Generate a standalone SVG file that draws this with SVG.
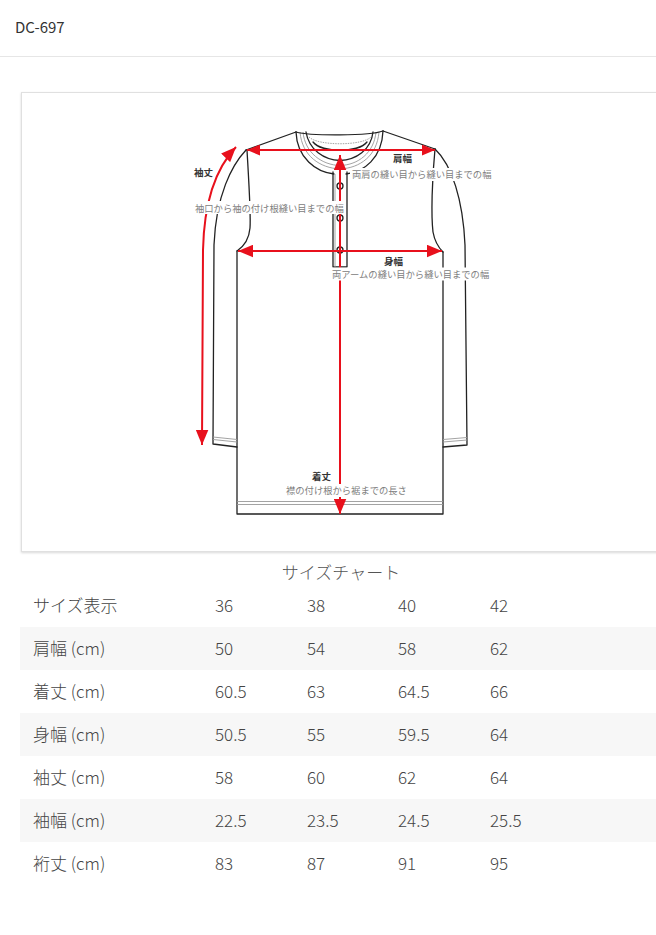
<svg xmlns="http://www.w3.org/2000/svg" width="656" height="935" viewBox="0 0 656 935">
<defs>
<style>
.t{font-family:"Noto Sans CJK JP","Noto Sans",sans-serif;}
.hdr{font-size:15px;fill:#333;}
.cell{font-size:17px;fill:#444;font-weight:300;}
.ttl{font-size:17px;fill:#555;font-weight:300;}
.lb{font-size:9.5px;fill:#333;font-weight:bold;}
.ds{font-size:9.3px;fill:#808080;}
.ol{fill:none;stroke:#222;stroke-width:1.3;stroke-linejoin:round;stroke-linecap:round;}
.gl{fill:none;stroke:#999;stroke-width:0.9;}
.red{fill:none;stroke:#e8101c;stroke-width:2;}
.bg{fill:#fff;}
.sh{fill:#f7f7f7;}
</style>
<marker id="ah" viewBox="0 0 12 10" refX="12" refY="5" markerWidth="13" markerHeight="11" markerUnits="userSpaceOnUse" orient="auto-start-reverse">
<path d="M0,0 L12,5 L0,10 z" fill="#e8101c"/>
</marker>
<marker id="ahL" viewBox="0 0 12 10" refX="12" refY="5" markerWidth="15" markerHeight="13" markerUnits="userSpaceOnUse" orient="auto-start-reverse">
<path d="M0,0 L12,5 L0,10 z" fill="#e8101c"/>
</marker>
<filter id="shadow" x="-5%" y="-5%" width="110%" height="110%">
<feDropShadow dx="0" dy="1" stdDeviation="1.2" flood-color="#000" flood-opacity="0.15"/>
</filter>
</defs>

<g id="header">
<text class="t hdr" x="15" y="33">DC-697</text>
<line x1="0" y1="56.5" x2="656" y2="56.5" stroke="#e6e6e6" stroke-width="1"/>
</g>

<g id="diagram-box">
<rect x="21.5" y="92.5" width="700" height="459" fill="#fff" stroke="#e0e0e0" stroke-width="1" filter="url(#shadow)"/>
</g>

<g id="garment">
<!-- body -->
<path class="ol" d="M237,251 L237,514 L443,514 L443,252"/>
<line class="gl" x1="237" y1="501.5" x2="443" y2="501.5"/>
<line class="gl" x1="237" y1="504.5" x2="443" y2="504.5"/>
<!-- shoulders -->
<path class="ol" d="M246,150 L296,132"/>
<path class="ol" d="M383,131 L435,149"/>
<!-- left sleeve -->
<path class="ol" d="M246,150 C232,165 216,195 214,245 L213,444 L237,447"/>
<path class="ol" d="M247,150 C249,185 251,215 250,228 C249,240 243,247 237,251"/>
<path class="gl" d="M213,437 L237,439.5"/>
<path class="gl" d="M213,439.5 L237,442"/>
<!-- right sleeve -->
<path class="ol" d="M435,149 C452,165 463,200 465,245 L467,445 L443,447"/>
<path class="ol" d="M435,149 C432,180 431,215 433,232 C435,243 439,248 443,252"/>
<path class="gl" d="M467,437.5 L443,439.5"/>
<path class="gl" d="M467,440 L443,442"/>
<!-- collar -->
<path class="ol" d="M296,132 C297,158 316,172 334,174"/>
<path class="ol" d="M383,131 C382,158 364,172 346,174"/>
<path class="gl" d="M300,132 C302,156 320,168 340,169 C360,168 377,156 379,132"/>
<path class="gl" d="M303,132 C305,153 322,165 340,165.5 C358,165 374,153 376,132"/>
<path class="ol" d="M306,132 C309,150 324,160 340,160.5 C356,160 371,150 373,132"/>
<path class="ol" d="M296,132 C310,136 370,136 383,131"/>
<path class="gl" d="M309,137 C318,146 362,146 371,137" stroke-dasharray="1.5 1"/>
<path class="ol" d="M313,142 C322,153 358,153 367,142" stroke-width="0.9"/>
<!-- placket -->
<path class="ol" d="M333,172 L333,267 L347,267 L347,172"/>
<line class="gl" x1="335" y1="174" x2="335" y2="267"/>
<circle class="ol" cx="340" cy="186" r="3" stroke-width="1"/>
<circle class="ol" cx="340" cy="218" r="3" stroke-width="1"/>
<circle class="ol" cx="340" cy="250" r="3" stroke-width="1"/>
</g>

<g id="connectors">
<line class="red" x1="247" y1="150" x2="435" y2="150" marker-start="url(#ah)" marker-end="url(#ah)"/>
<line class="red" x1="238" y1="251" x2="442" y2="251" marker-start="url(#ahL)" marker-end="url(#ahL)"/>
<line class="red" x1="340" y1="155" x2="340" y2="514" marker-start="url(#ahL)" marker-end="url(#ahL)"/>
<path class="red" d="M236,147 C214,170 204,205 203,250 L202,445" marker-start="url(#ahL)" marker-end="url(#ahL)"/>
</g>

<g id="label-shoulder">
<text class="t lb" x="393" y="161.5">肩幅</text>
<rect class="bg" x="350" y="168" width="143" height="13"/>
<text class="t ds" x="352" y="178">両肩の縫い目から縫い目までの幅</text>
</g>

<g id="label-sleeve">
<text class="t lb" x="194" y="175.5">袖丈</text>
<rect class="bg" x="193" y="201" width="152" height="13"/>
<text class="t ds" x="195" y="211.5">袖口から袖の付け根縫い目までの幅</text>
</g>

<g id="label-body">
<text class="t lb" x="384" y="264.5">身幅</text>
<rect class="bg" x="330" y="267.5" width="163" height="13"/>
<text class="t ds" x="332" y="277.5">両アームの縫い目から縫い目までの幅</text>
</g>

<g id="label-length">
<text class="t lb" x="312" y="479.5">着丈</text>
<rect class="bg" x="284" y="484" width="124" height="13"/>
<text class="t ds" x="286" y="493.5">襟の付け根から裾までの長さ</text>
</g>

<g id="size-table">
<text class="t ttl" x="341" y="579" text-anchor="middle">サイズチャート</text>
<rect class="sh" x="20" y="627" width="636" height="43"/>
<rect class="sh" x="20" y="713" width="636" height="43"/>
<rect class="sh" x="20" y="799" width="636" height="43"/>
<g class="t cell">
<text x="33" y="612">サイズ表示</text><text x="215" y="612">36</text><text x="307" y="612">38</text><text x="398" y="612">40</text><text x="490" y="612">42</text>
<text x="33" y="655">肩幅 (cm)</text><text x="215" y="655">50</text><text x="307" y="655">54</text><text x="398" y="655">58</text><text x="490" y="655">62</text>
<text x="33" y="698">着丈 (cm)</text><text x="215" y="698">60.5</text><text x="307" y="698">63</text><text x="398" y="698">64.5</text><text x="490" y="698">66</text>
<text x="33" y="741">身幅 (cm)</text><text x="215" y="741">50.5</text><text x="307" y="741">55</text><text x="398" y="741">59.5</text><text x="490" y="741">64</text>
<text x="33" y="784">袖丈 (cm)</text><text x="215" y="784">58</text><text x="307" y="784">60</text><text x="398" y="784">62</text><text x="490" y="784">64</text>
<text x="33" y="827">袖幅 (cm)</text><text x="215" y="827">22.5</text><text x="307" y="827">23.5</text><text x="398" y="827">24.5</text><text x="490" y="827">25.5</text>
<text x="33" y="870">裄丈 (cm)</text><text x="215" y="870">83</text><text x="307" y="870">87</text><text x="398" y="870">91</text><text x="490" y="870">95</text>
</g>
</g>
</svg>
